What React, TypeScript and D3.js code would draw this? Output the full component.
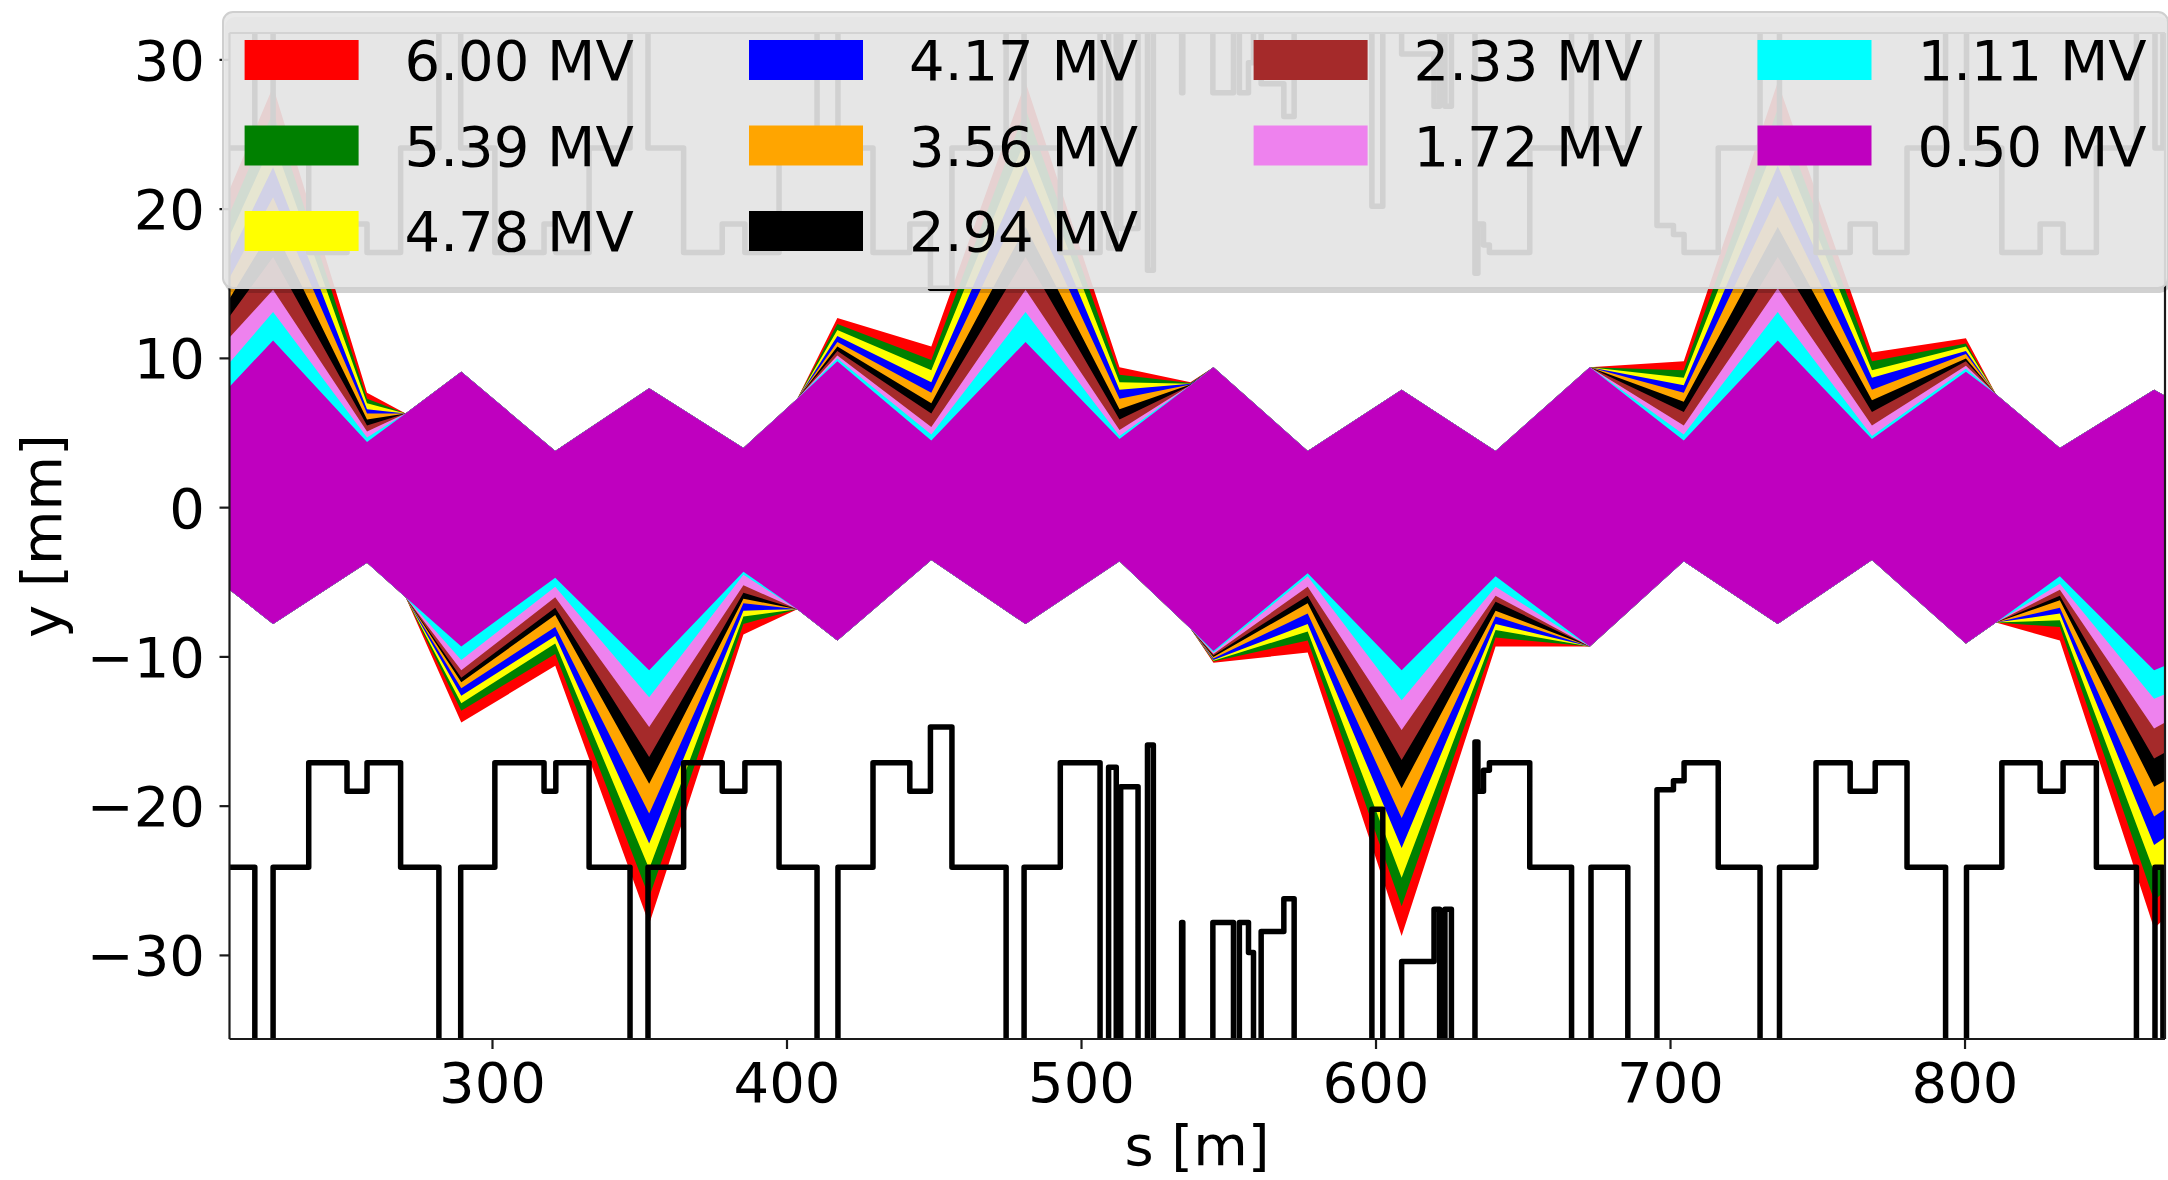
import React from 'react';
import * as d3 from 'd3';

// s positions [m] of the envelope sample points
const S = [210.7, 225.5, 257.4, 270.5, 289.4, 321.3, 353.2, 385.2, 403.5, 417.1, 449.0, 481.0, 512.9, 537.0, 544.8, 576.8, 608.7, 640.6, 672.6, 704.5, 736.4, 768.4, 800.3, 810.5, 832.2, 864.2, 867.9];

const labels = ['6.00 MV', '5.39 MV', '4.78 MV', '4.17 MV', '3.56 MV', '2.94 MV', '2.33 MV', '1.72 MV', '1.11 MV', '0.50 MV'];
const colors = ['#ff0000', '#008000', '#ffff00', '#0000ff', '#ffa500', '#000000', '#a52a2a', '#ee82ee', '#00ffff', '#bf00bf'];
// legend grid placement (matplotlib ncol=4 fills 3,3,2,2)
const legCol = [0, 0, 0, 1, 1, 1, 2, 2, 3, 3];
const legRow = [0, 1, 2, 0, 1, 2, 0, 1, 0, 1];

// upper / lower envelope [mm] per voltage
const top600 = [21.3, 28.2, 7.7, 6.3, 9.1, 3.8, 8.0, 4.0, 7.3, 12.7, 10.8, 28.5, 9.4, 8.4, 9.4, 3.8, 7.9, 3.8, 9.4, 9.8, 28.5, 10.4, 11.35, 7.6, 4.0, 7.9, 7.5];
const bot600 = [-5.5, -7.8, -3.7, -6.0, -14.4, -10.6, -27.9, -8.5, -6.8, -8.9, -3.5, -7.8, -3.6, -8.1, -10.4, -9.7, -28.7, -9.3, -9.3, -3.6, -7.8, -3.5, -9.1, -7.7, -8.9, -28.2, -27.5];
const top539 = [19.7, 26.5, 7.3, 6.3, 9.1, 3.8, 8.0, 4.0, 7.3, 12.3, 9.9, 26.7, 8.9, 8.35, 9.4, 3.8, 7.9, 3.8, 9.4, 9.2, 26.7, 9.8, 11.0, 7.6, 4.0, 7.9, 7.5];
const bot539 = [-5.5, -7.8, -3.7, -6.0, -13.6, -9.8, -26.1, -7.8, -6.8, -8.9, -3.5, -7.8, -3.6, -8.1, -10.3, -8.9, -26.7, -8.7, -9.3, -3.6, -7.8, -3.5, -9.1, -7.7, -8.0, -26.3, -25.7];
const top478 = [18.2, 24.6, 7.0, 6.3, 9.1, 3.8, 8.0, 4.0, 7.3, 11.9, 9.2, 24.7, 8.4, 8.3, 9.4, 3.8, 7.9, 3.8, 9.4, 8.7, 24.8, 9.2, 10.8, 7.6, 4.0, 7.9, 7.5];
const bot478 = [-5.5, -7.8, -3.7, -6.0, -13.1, -9.1, -24.2, -7.3, -6.8, -8.9, -3.5, -7.8, -3.6, -8.1, -10.25, -8.3, -24.8, -8.2, -9.3, -3.6, -7.8, -3.5, -9.1, -7.7, -7.55, -24.4, -23.9];
const top417 = [16.8, 22.8, 6.6, 6.3, 9.1, 3.8, 8.0, 4.0, 7.3, 11.5, 8.4, 22.9, 7.9, 8.3, 9.4, 3.8, 7.9, 3.8, 9.4, 8.2, 22.9, 8.7, 10.5, 7.6, 4.0, 7.9, 7.5];
const bot417 = [-5.5, -7.8, -3.7, -6.0, -12.6, -8.6, -22.5, -6.9, -6.8, -8.9, -3.5, -7.8, -3.6, -8.1, -10.2, -7.8, -22.8, -7.8, -9.3, -3.6, -7.8, -3.5, -9.1, -7.7, -7.1, -22.6, -22.1];
const top356 = [15.4, 20.8, 6.3, 6.3, 9.1, 3.8, 8.0, 4.0, 7.3, 11.1, 7.7, 20.9, 7.3, 8.25, 9.4, 3.8, 7.9, 3.8, 9.4, 7.7, 20.9, 7.9, 10.3, 7.6, 4.0, 7.9, 7.5];
const bot356 = [-5.5, -7.8, -3.7, -6.0, -12.1, -8.0, -20.5, -6.4, -6.8, -8.9, -3.5, -7.8, -3.6, -8.1, -10.1, -7.1, -20.8, -7.3, -9.3, -3.6, -7.8, -3.5, -9.1, -7.7, -6.7, -20.7, -20.2];
const top294 = [14.0, 18.8, 5.9, 6.3, 9.1, 3.8, 8.0, 4.0, 7.3, 10.8, 7.0, 18.8, 6.6, 8.25, 9.4, 3.8, 7.9, 3.8, 9.4, 7.1, 18.8, 7.2, 10.0, 7.6, 4.0, 7.9, 7.5];
const bot294 = [-5.5, -7.8, -3.7, -6.0, -11.7, -7.2, -18.5, -6.1, -6.8, -8.9, -3.5, -7.8, -3.6, -8.1, -10.0, -6.4, -18.8, -6.9, -9.3, -3.6, -7.8, -3.5, -9.1, -7.7, -6.2, -18.7, -18.3];
const top233 = [12.8, 16.8, 5.5, 6.3, 9.1, 3.8, 8.0, 4.0, 7.3, 10.5, 6.3, 16.8, 5.9, 8.2, 9.4, 3.8, 7.9, 3.8, 9.4, 6.4, 16.8, 6.4, 9.8, 7.6, 4.0, 7.9, 7.5];
const bot233 = [-5.5, -7.8, -3.7, -6.0, -11.4, -6.7, -16.7, -5.7, -6.8, -8.9, -3.5, -7.8, -3.6, -8.1, -9.9, -5.9, -16.9, -6.3, -9.3, -3.6, -7.8, -3.5, -9.1, -7.7, -5.9, -16.8, -16.4];
const top172 = [11.4, 14.6, 5.1, 6.3, 9.1, 3.8, 8.0, 4.0, 7.3, 10.2, 5.4, 14.6, 5.2, 8.2, 9.4, 3.8, 7.9, 3.8, 9.4, 5.5, 14.7, 5.5, 9.5, 7.6, 4.0, 7.9, 7.5];
const bot172 = [-5.5, -7.8, -3.7, -6.0, -10.9, -6.0, -14.7, -5.2, -6.8, -8.9, -3.5, -7.8, -3.6, -8.1, -9.8, -5.3, -14.9, -5.9, -9.3, -3.6, -7.8, -3.5, -9.1, -7.7, -5.5, -14.8, -14.4];
const top111 = [9.7, 13.1, 4.7, 6.3, 9.1, 3.8, 8.0, 4.0, 7.3, 10.0, 4.9, 13.1, 4.8, 8.2, 9.4, 3.8, 7.9, 3.8, 9.4, 4.9, 13.1, 4.8, 9.3, 7.6, 4.0, 7.9, 7.5];
const bot111 = [-5.5, -7.8, -3.7, -6.0, -10.2, -5.3, -12.7, -4.5, -6.8, -8.9, -3.5, -7.8, -3.6, -8.1, -9.7, -4.6, -12.9, -5.3, -9.3, -3.6, -7.8, -3.5, -9.1, -7.7, -5.1, -12.8, -12.5];
const top050 = [8.1, 11.2, 4.4, 6.3, 9.1, 3.8, 8.0, 4.0, 7.3, 9.8, 4.5, 11.1, 4.6, 8.2, 9.4, 3.8, 7.9, 3.8, 9.4, 4.5, 11.2, 4.6, 9.1, 7.6, 4.0, 7.9, 7.5];
const bot050 = [-5.5, -7.8, -3.7, -6.0, -9.3, -4.7, -10.9, -4.3, -6.8, -8.9, -3.5, -7.8, -3.6, -8.1, -9.6, -4.4, -10.9, -4.6, -9.3, -3.6, -7.8, -3.5, -9.1, -7.7, -4.6, -10.9, -10.6];

const tops = [top600, top539, top478, top417, top356, top294, top233, top172, top111, top050];
const bots = [bot600, bot539, bot478, bot417, bot356, bot294, bot233, bot172, bot111, bot050];

// aperture outline (lower half, mm); mirrored for the upper half
const apS = [210.7, 219.3, 219.3, 225.5, 225.5, 237.6, 237.6, 250.6, 250.6, 257.4, 257.4, 268.8, 268.8, 281.8, 281.8, 289.2, 289.2, 300.8, 300.8, 317.5, 317.5, 321.5, 321.5, 332.8, 332.8, 346.7, 346.7, 352.8, 352.8, 364.9, 364.9, 378.0, 378.0, 385.7, 385.7, 397.3, 397.3, 410.2, 410.2, 417.3, 417.3, 429.2, 429.2, 441.7, 441.7, 448.7, 448.7, 456.0, 456.0, 474.4, 474.4, 480.5, 480.5, 492.8, 492.8, 506.3, 506.3, 509.2, 509.2, 511.8, 511.8, 513.3, 513.3, 519.2, 519.2, 522.4, 522.4, 524.4, 524.4, 534.0, 534.0, 534.4, 534.4, 544.6, 544.6, 551.6, 551.6, 553.6, 553.6, 556.7, 556.7, 558.4, 558.4, 561.0, 561.0, 568.7, 568.7, 572.2, 572.2, 598.6, 598.6, 602.3, 602.3, 608.7, 608.7, 619.7, 619.7, 621.6, 621.6, 623.4, 623.4, 625.6, 625.6, 633.6, 633.6, 634.6, 634.6, 636.5, 636.5, 638.5, 638.5, 652.2, 652.2, 666.4, 666.4, 673.0, 673.0, 685.5, 685.5, 695.4, 695.4, 701.0, 701.0, 704.6, 704.6, 716.2, 716.2, 730.4, 730.4, 737.0, 737.0, 749.4, 749.4, 761.0, 761.0, 769.5, 769.5, 780.3, 780.3, 793.4, 793.4, 800.5, 800.5, 812.5, 812.5, 825.5, 825.5, 833.3, 833.3, 844.6, 844.6, 858.2, 858.2, 864.5, 864.5, 867.2, 867.2];
const apY = [-24.1, -24.1, -40, -40, -24.1, -24.1, -17.1, -17.1, -19.0, -19.0, -17.1, -17.1, -24.1, -24.1, -40, -40, -24.1, -24.1, -17.1, -17.1, -19.0, -19.0, -17.1, -17.1, -24.1, -24.1, -40, -40, -24.1, -24.1, -17.1, -17.1, -19.0, -19.0, -17.1, -17.1, -24.1, -24.1, -40, -40, -24.1, -24.1, -17.1, -17.1, -19.0, -19.0, -14.7, -14.7, -24.1, -24.1, -40, -40, -24.1, -24.1, -17.1, -17.1, -40, -40, -17.4, -17.4, -40, -40, -18.7, -18.7, -40, -40, -15.9, -15.9, -40, -40, -27.8, -27.8, -40, -40, -27.8, -27.8, -40, -40, -27.8, -27.8, -29.8, -29.8, -40, -40, -28.4, -28.4, -26.2, -26.2, -40, -40, -20.2, -20.2, -40, -40, -30.4, -30.4, -26.9, -26.9, -40, -40, -26.9, -26.9, -40, -40, -15.7, -15.7, -19.0, -19.0, -17.6, -17.6, -17.1, -17.1, -24.1, -24.1, -40, -40, -24.1, -24.1, -40, -40, -18.9, -18.9, -18.3, -18.3, -17.1, -17.1, -24.1, -24.1, -40, -40, -24.1, -24.1, -17.1, -17.1, -19.0, -19.0, -17.1, -17.1, -24.1, -24.1, -40, -40, -24.1, -24.1, -17.1, -17.1, -19.0, -19.0, -17.1, -17.1, -24.1, -24.1, -40, -40, -24.1, -24.1, -40];

const xTicks = [300, 400, 500, 600, 700, 800];
const yTicks = [-30, -20, -10, 0, 10, 20, 30];

const FONT = 'DejaVu Sans';

export default function App() {
  const W = 2168, H = 1180;
  const L = 229.5, R = 2165, T = 33, B = 1039;
  const x = d3.scaleLinear().domain([210.7, 867.9]).range([L, R]);
  const y = d3.scaleLinear().domain([-35.6, 31.8]).range([B, T]);
  const idx = d3.range(S.length);
  const apIdx = d3.range(apS.length);
  const fmt = d3.format('d');

  const areaFor = (k: number) =>
    d3.area<number>()
      .x(i => x(S[i]))
      .y0(i => y(bots[k][i]))
      .y1(i => y(tops[k][i]))(idx) || '';

  const apLow = d3.line<number>().x(i => x(apS[i])).y(i => y(apY[i]))(apIdx) || '';
  const apHigh = d3.line<number>().x(i => x(apS[i])).y(i => y(-apY[i]))(apIdx) || '';

  const legL = 223, legT = 12, legW = 1945, legH = 276;
  const colX = [244.6, 749, 1253.6, 1757.5];
  const rowY = [60, 145.5, 231];

  return (
    <svg width={W} height={H} style={{ position: 'absolute', left: 0, top: 0, background: '#fff' }} fontFamily={FONT}>
      <defs>
        <clipPath id="plotclip">
          <rect x={L} y={T} width={R - L} height={B - T} />
        </clipPath>
      </defs>
      <g clipPath="url(#plotclip)">
        {colors.map((c, k) => (
          <path key={k} d={areaFor(k)} fill={c} stroke="none" />
        ))}
        <path d={apLow} fill="none" stroke="#000" strokeWidth={5.5} strokeLinejoin="round" />
        <path d={apHigh} fill="none" stroke="#000" strokeWidth={5.5} strokeLinejoin="round" />
      </g>
      {/* spines */}
      <g stroke="#1a1a1a" strokeWidth={2.2} fill="none">
        <line x1={L} x2={L} y1={T} y2={B} />
        <line x1={R} x2={R} y1={T} y2={B} />
        <line x1={L} x2={R} y1={B} y2={B} />
        <line x1={L} x2={R} y1={T} y2={T} />
      </g>
      {/* x ticks */}
      {xTicks.map(t => (
        <g key={t}>
          <line x1={x(t)} x2={x(t)} y1={B} y2={B + 10} stroke="#1a1a1a" strokeWidth={2.2} />
          <text x={x(t)} y={1102} fontSize={56} textAnchor="middle" fill="#000">{fmt(t)}</text>
        </g>
      ))}
      {/* y ticks */}
      {yTicks.map(t => (
        <g key={t}>
          <line x1={L - 10} x2={L} y1={y(t)} y2={y(t)} stroke="#1a1a1a" strokeWidth={2.2} />
          <text x={205} y={y(t) + 20} fontSize={56} textAnchor="end" fill="#000">{fmt(t)}</text>
        </g>
      ))}
      <text x={1197} y={1165} fontSize={56} textAnchor="middle" fill="#000">s [m]</text>
      <text transform={`translate(61, ${(T + B) / 2}) rotate(-90)`} fontSize={56} textAnchor="middle" fill="#000">y [mm]</text>
      {/* legend */}
      <rect x={legL + 2} y={legT + 5} width={legW} height={legH} rx={10} fill="#000" opacity={0.18} />
      <rect x={legL} y={legT} width={legW} height={legH} rx={10} fill="#e8e8e8" fillOpacity={0.9} stroke="#cfcfcf" strokeWidth={2} />
      {labels.map((lab, i) => (
        <g key={lab}>
          <rect x={colX[legCol[i]]} y={rowY[legRow[i]] - 20} width={114} height={40} fill={colors[i]} />
          <text x={colX[legCol[i]] + 160} y={rowY[legRow[i]] + 20} fontSize={56} fill="#000">{lab}</text>
        </g>
      ))}
    </svg>
  );
}
